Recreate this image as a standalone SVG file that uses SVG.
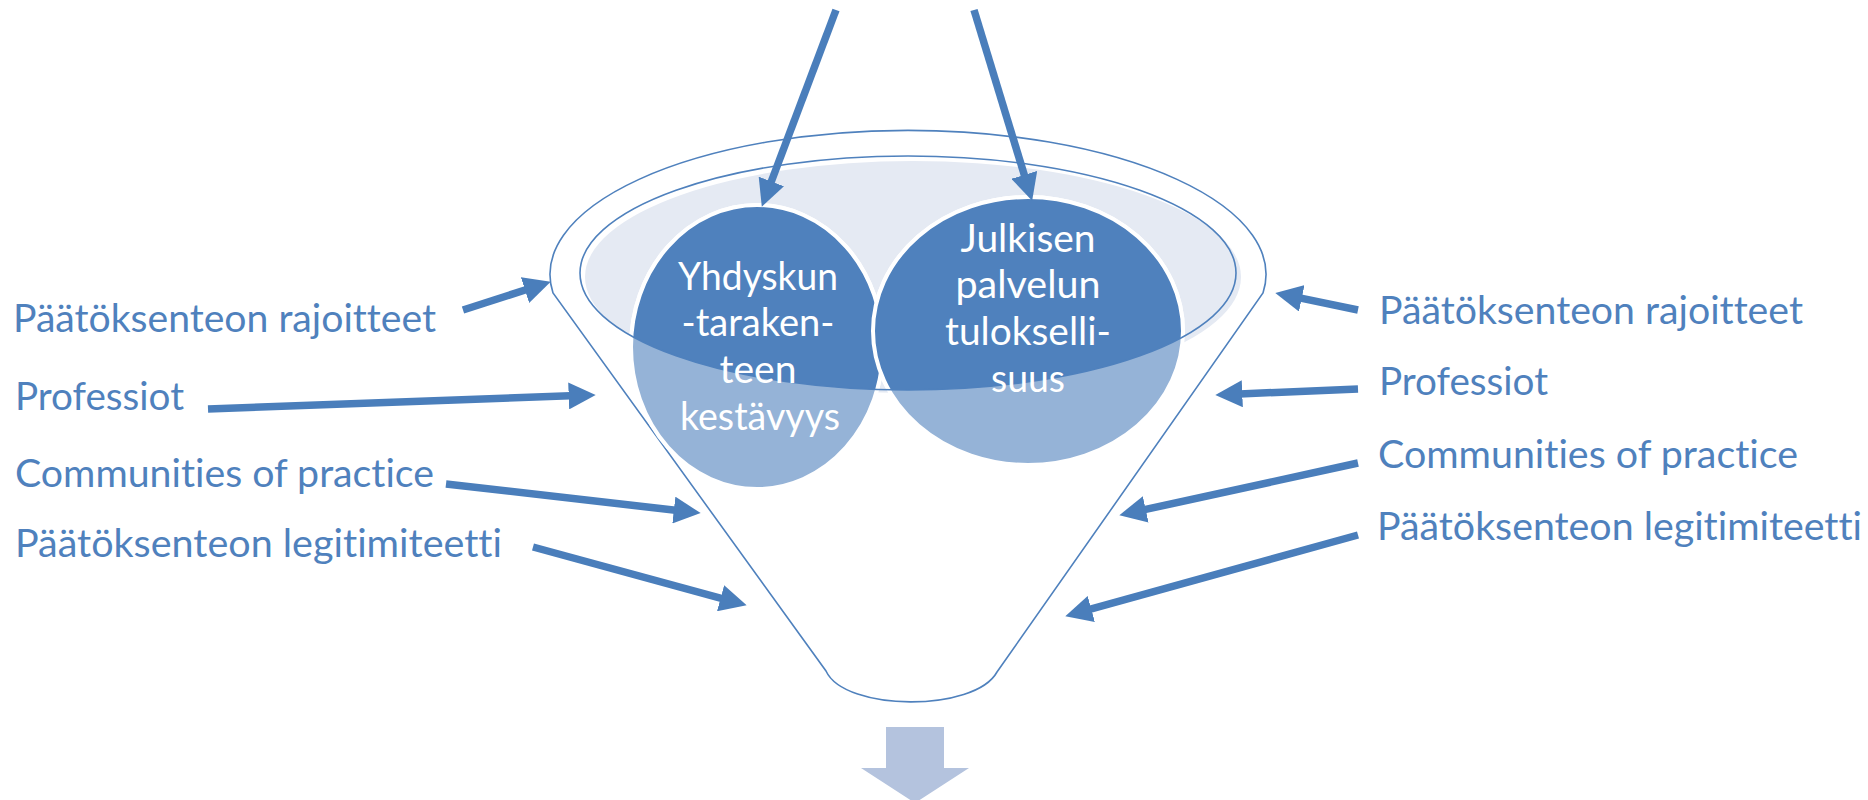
<svg xmlns="http://www.w3.org/2000/svg" width="1868" height="800" viewBox="0 0 1868 800">
<style>
text{font-variant-ligatures:none;font-feature-settings:"liga" 0,"dlig" 0}
.lbl{font-family:Lato,"Open Sans","Liberation Sans",sans-serif;font-size:38px;fill:#4F81BD}
.ct{font-family:Lato,"Open Sans","Liberation Sans",sans-serif;font-size:38px;fill:#FFFFFF;text-anchor:middle}
.arr{stroke:#4A7EBB;stroke-width:7.5;fill:none;marker-end:url(#ah)}
.light{fill:#95B3D7;stroke:#FFFFFF;stroke-width:4}
.dark{fill:#4F81BD;stroke:#FFFFFF;stroke-width:4}
</style>
<defs>
<marker id="ah" markerUnits="userSpaceOnUse" markerWidth="27" markerHeight="27" viewBox="0 0 26 26" refX="8" refY="13" orient="auto">
<path d="M0,0 L26,13 L0,26 Z" fill="#4A7EBB"/>
</marker>
<clipPath id="rim"><ellipse cx="908" cy="273" rx="328" ry="117"/></clipPath>
</defs>
<rect width="1868" height="800" fill="#FFFFFF"/>
<g id="funnel">
<path d="M553,293 A358,144 0 1 1 1263,293 L997,672 C975,712 845,712 826,671 Z" fill="#FFFFFF" stroke="#4F81BD" stroke-width="1.6"/>
<ellipse cx="913" cy="277" rx="328" ry="116" fill="#E5EAF3"/>
</g>
<g id="node-yhdyskunta">
<ellipse class="light" cx="757" cy="347" rx="126" ry="142"/>
</g>
<g id="node-julkisen">
<ellipse class="light" cx="1028" cy="331" rx="155" ry="134"/>
</g>
<g id="rim-overlay" clip-path="url(#rim)">
<ellipse class="dark" cx="757" cy="347" rx="126" ry="142"/>
<ellipse class="dark" cx="1028" cy="331" rx="155" ry="134"/>
</g>
<g id="rim-outline">
<ellipse cx="908" cy="273" rx="328" ry="117" fill="none" stroke="#4F81BD" stroke-width="1.6"/>
</g>
<g id="node-text">
<text class="ct" x="758" y="290" textLength="160" lengthAdjust="spacingAndGlyphs">Yhdyskun</text>
<text class="ct" x="758" y="336" textLength="153" lengthAdjust="spacingAndGlyphs">-taraken-</text>
<text class="ct" x="758" y="383" textLength="77" lengthAdjust="spacingAndGlyphs">teen</text>
<text class="ct" x="760" y="430" textLength="160" lengthAdjust="spacingAndGlyphs">kestävyys</text>
<text class="ct" x="1028" y="252" textLength="135" lengthAdjust="spacingAndGlyphs">Julkisen</text>
<text class="ct" x="1028" y="298" textLength="145" lengthAdjust="spacingAndGlyphs">palvelun</text>
<text class="ct" x="1028" y="345" textLength="166" lengthAdjust="spacingAndGlyphs">tulokselli-</text>
<text class="ct" x="1028" y="392" textLength="74" lengthAdjust="spacingAndGlyphs">suus</text>
</g>
<g id="labels-left">
<text class="lbl" x="13" y="332" textLength="423" lengthAdjust="spacingAndGlyphs">Päätöksenteon rajoitteet</text>
<text class="lbl" x="15" y="410" textLength="169" lengthAdjust="spacingAndGlyphs">Professiot</text>
<text class="lbl" x="15" y="487" textLength="419" lengthAdjust="spacingAndGlyphs">Communities of practice</text>
<text class="lbl" x="15" y="557" textLength="487" lengthAdjust="spacingAndGlyphs">Päätöksenteon legitimiteetti</text>
</g>
<g id="labels-right">
<text class="lbl" x="1379" y="324" textLength="424" lengthAdjust="spacingAndGlyphs">Päätöksenteon rajoitteet</text>
<text class="lbl" x="1379" y="395" textLength="169" lengthAdjust="spacingAndGlyphs">Professiot</text>
<text class="lbl" x="1378" y="468" textLength="420" lengthAdjust="spacingAndGlyphs">Communities of practice</text>
<text class="lbl" x="1377" y="540" textLength="485" lengthAdjust="spacingAndGlyphs">Päätöksenteon legitimiteetti</text>
</g>
<g id="connectors">
<line class="arr" x1="463" y1="310" x2="532.9" y2="287.5"/>
<line class="arr" x1="208" y1="409" x2="577" y2="395.6"/>
<line class="arr" x1="446" y1="484" x2="682.1" y2="511"/>
<line class="arr" x1="533" y1="547" x2="728.6" y2="600.4"/>
<line class="arr" x1="1358" y1="310" x2="1293.6" y2="296.7"/>
<line class="arr" x1="1358" y1="389" x2="1234" y2="394.2"/>
<line class="arr" x1="1358" y1="463" x2="1137.6" y2="511.2"/>
<line class="arr" x1="1358" y1="535" x2="1083.3" y2="611.2"/>
<line class="arr" x1="836" y1="10" x2="768.4" y2="189.2"/>
<line class="arr" x1="974" y1="10" x2="1026.7" y2="182.8"/>
</g>
<g id="down-arrow">
<path d="M886,727 L944,727 L944,768 L969,768 L915,803 L861,768 L886,768 Z" fill="#B4C3DE"/>
</g>
</svg>
